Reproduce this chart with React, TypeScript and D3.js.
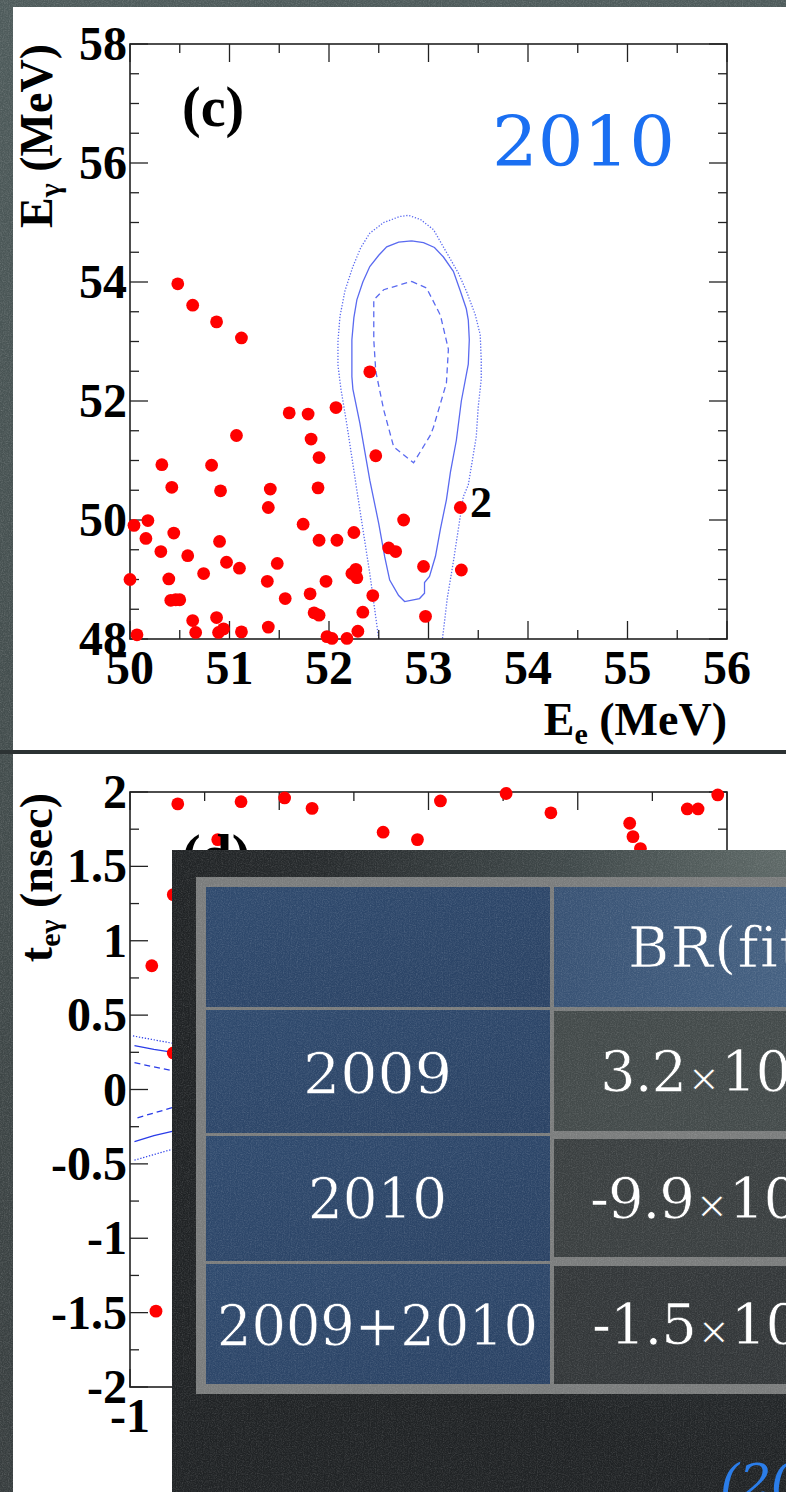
import React, { useEffect } from "react";
import * as d3 from "d3";

const W = 786;
const H = 1492;

// ---------- Panel (c): E_e vs E_gamma, 2010 events ----------
const eventsC: [number, number][] = [
  [50.48, 53.97], [50.63, 53.61], [50.87, 53.33], [51.12, 53.06], [52.41, 52.49],
  [51.6, 51.8], [51.79, 51.78], [52.07, 51.89], [51.07, 51.42], [51.82, 51.36],
  [51.9, 51.05], [52.47, 51.08], [50.32, 50.93], [50.82, 50.92], [50.42, 50.55],
  [50.91, 50.49], [51.41, 50.52], [51.89, 50.54], [51.39, 50.21], [53.32, 50.21],
  [50.04, 49.91], [50.18, 49.99], [51.74, 49.93], [52.75, 50.0], [50.16, 49.69],
  [50.44, 49.78], [50.9, 49.64], [51.9, 49.66], [52.08, 49.66], [52.25, 49.79],
  [50.31, 49.47], [50.58, 49.4], [50.97, 49.29], [51.1, 49.19], [51.48, 49.27],
  [52.6, 49.53], [52.67, 49.47], [52.95, 49.22], [53.33, 49.16], [50.0, 49.0],
  [50.39, 49.01], [50.74, 49.1], [51.38, 48.97], [51.97, 48.97], [52.23, 49.1],
  [52.27, 49.17], [52.28, 49.03], [50.41, 48.65], [50.46, 48.66], [50.5, 48.66],
  [51.56, 48.68], [51.81, 48.76], [52.44, 48.73], [51.85, 48.44], [51.9, 48.4],
  [52.34, 48.45], [52.97, 48.38], [50.63, 48.31], [50.87, 48.36], [50.66, 48.11],
  [50.89, 48.11], [50.94, 48.17], [51.12, 48.12], [51.39, 48.2], [50.07, 48.07],
  [51.98, 48.04], [52.03, 48.01], [52.18, 48.01], [52.29, 48.13],
];

const contourOuterC: [number, number][] = [
  [52.5, 48.0], [52.41, 49.1], [52.28, 50.5], [52.18, 51.6], [52.12, 52.2], [52.09, 52.6],
  [52.09, 53.0], [52.11, 53.42], [52.16, 53.85], [52.24, 54.26], [52.32, 54.58],
  [52.41, 54.82], [52.55, 55.0], [52.71, 55.1], [52.8, 55.12], [52.92, 55.05],
  [53.05, 54.88], [53.18, 54.5], [53.3, 54.15], [53.38, 53.85], [53.47, 53.45],
  [53.52, 53.11], [53.53, 52.7], [53.53, 52.37], [53.5, 51.9], [53.48, 51.4],
  [53.4, 50.59], [53.35, 50.39], [53.3, 49.85], [53.25, 49.3], [53.19, 48.7], [53.14, 48.0],
];

const contourMidC: [number, number][] = [
  [52.83, 54.69], [52.95, 54.66], [53.06, 54.58], [53.15, 54.42], [53.25, 54.18],
  [53.32, 53.85], [53.38, 53.55], [53.4, 53.36], [53.41, 53.03], [53.4, 52.62],
  [53.33, 52.0], [53.28, 51.34], [53.22, 50.8], [53.18, 50.34], [53.12, 49.85],
  [53.07, 49.39], [53.01, 49.05], [52.96, 48.95], [52.96, 48.77], [52.91, 48.68],
  [52.76, 48.63], [52.7, 48.73], [52.61, 48.99], [52.56, 49.38], [52.5, 49.94],
  [52.41, 50.67], [52.31, 51.63], [52.24, 52.2], [52.23, 52.41], [52.23, 53.03],
  [52.25, 53.4], [52.28, 53.7], [52.34, 54.0], [52.41, 54.26], [52.5, 54.45],
  [52.58, 54.59], [52.7, 54.67], [52.83, 54.69],
];

const contourInnerC: [number, number][] = [
  [52.83, 54.01], [52.98, 53.9], [53.12, 53.44], [53.2, 52.87], [53.18, 52.3],
  [53.05, 51.56], [53.02, 51.43], [52.85, 50.96], [52.65, 51.23], [52.55, 51.85],
  [52.47, 52.5], [52.45, 53.03], [52.45, 53.7], [52.55, 53.87], [52.71, 53.95], [52.83, 54.01],
];

const yTicksC = [48, 50, 52, 54, 56, 58];
const xTicksC = [50, 51, 52, 53, 54, 55, 56];

// ---------- Panel (d): cos(theta) vs t_egamma ----------
const eventsD: [number, number][] = [
  [-0.84, 1.92], [-0.628, 1.935], [-0.482, 1.96], [-0.39, 1.89], [-0.152, 1.73],
  [-0.037, 1.68], [0.04, 1.94], [0.26, 1.99], [0.41, 1.86], [0.674, 1.79],
  [0.685, 1.7], [0.71, 1.62], [0.867, 1.886], [0.903, 1.886], [0.969, 1.98],
  [-0.706, 1.68], [-0.927, 0.832], [-0.855, 1.31], [-0.855, 0.246], [-0.913, -1.49],
];

const dContourDottedTop: [number, number][] = [[-0.99, 0.36], [-0.855, 0.31], [-0.8, 0.29]];
const dContourSolidTop: [number, number][] = [[-0.985, 0.295], [-0.92, 0.27], [-0.855, 0.25], [-0.8, 0.23]];
const dContourDashedTop: [number, number][] = [[-0.985, 0.18], [-0.855, 0.125], [-0.8, 0.1]];
const dContourDashedBot: [number, number][] = [[-0.975, -0.19], [-0.855, -0.12], [-0.8, -0.1]];
const dContourSolidBot: [number, number][] = [[-0.985, -0.35], [-0.92, -0.31], [-0.855, -0.28], [-0.8, -0.26]];
const dContourDottedBot: [number, number][] = [[-0.985, -0.475], [-0.855, -0.4], [-0.8, -0.38]];

const yTicksD = [-2, -1.5, -1, -0.5, 0, 0.5, 1, 1.5, 2];
const xTicksD = [-1, -0.5, 0, 0.5, 1];

// ---------- Table ----------
const rowLabels = ["2009", "2010", "2009+2010"];
const brFitMantissa = ["3.2", "-9.9", "-1.5"];
const headerLabel = "BR(fit)";

const serifBold = "'Liberation Serif', 'Times New Roman', serif";
const fancy = "'DejaVu Serif', serif";

export default function App() {
  useEffect(() => {
    document.body.style.margin = "0";
  }, []);

  const xC = d3.scaleLinear().domain([50, 56]).range([130, 727]);
  const yC = d3.scaleLinear().domain([48, 58]).range([639, 44]);
  const xD = d3.scaleLinear().domain([-1, 1]).range([130, 727]);
  const yD = d3.scaleLinear().domain([-2, 2]).range([1387, 792]);

  const lineC = d3.line<[number, number]>().x((d) => xC(d[0])).y((d) => yC(d[1]));
  const lineD = d3.line<[number, number]>().x((d) => xD(d[0])).y((d) => yD(d[1]));

  const minorYC = d3.range(48, 58.001, 0.5);
  const minorXC = d3.range(50, 56.001, 0.5);
  const minorYD = d3.range(-2, 2.001, 0.25);
  const minorXD = d3.range(-1, 1.001, 0.25);

  const tableX = 172;
  const tableY = 850;

  const axisColor = "#222";
  const contourC = "#5a6af0";
  const contourD = "#2a3ce8";

  const cFrame = { l: 130, r: 727, t: 44, b: 639 };
  const dFrame = { l: 130, r: 727, t: 792, b: 1387 };

  const isMajor = (v: number, step: number) => Math.abs(v / step - Math.round(v / step)) < 1e-6;

  const leftCol = { x0: 206, x1: 550 };
  const rightCol = { x0: 554, x1: 800 };
  const leftRows = [
    { y0: 1010, y1: 1133 },
    { y0: 1136, y1: 1261 },
    { y0: 1264, y1: 1384 },
  ];
  const rightRows = [
    { y0: 1011, y1: 1131 },
    { y0: 1139, y1: 1257 },
    { y0: 1266, y1: 1384 },
  ];
  const leftTextBase = [1093, 1218, 1345];
  const leftTextWidth = [149, 139, 321];
  const rightTextX = [600, 590, 592];
  const rightTextBase = [1091, 1218, 1344];
  const rightFill = ["#434a4a", "#3a3f40", "#333739"];

  return (
    <svg
      width={W}
      height={H}
      viewBox={`0 0 ${W} ${H}`}
      style={{ position: "fixed", left: 0, top: 0, display: "block" }}
    >
      <defs>
        <linearGradient id="bgGrad" x1="0" y1="0" x2="0" y2="1">
          <stop offset="0" stopColor="#4e5b5b" />
          <stop offset="0.5" stopColor="#434d4d" />
          <stop offset="1" stopColor="#373d3e" />
        </linearGradient>
        <radialGradient id="tableGrad" cx="790" cy="850" r="620" gradientUnits="userSpaceOnUse">
          <stop offset="0" stopColor="#5f6a68" />
          <stop offset="0.35" stopColor="#40494a" />
          <stop offset="0.75" stopColor="#272b2d" />
          <stop offset="1" stopColor="#202325" />
        </radialGradient>
        <linearGradient id="blueCell" x1="0" y1="0" x2="1" y2="1">
          <stop offset="0" stopColor="#2f4a6e" />
          <stop offset="1" stopColor="#2a4264" />
        </linearGradient>
        <linearGradient id="blueHeader" x1="0" y1="0" x2="1" y2="0">
          <stop offset="0" stopColor="#385274" />
          <stop offset="1" stopColor="#456182" />
        </linearGradient>
        <filter id="noise" x="0" y="0" width="100%" height="100%">
          <feTurbulence type="fractalNoise" baseFrequency="0.85" numOctaves="2" seed="3" stitchTiles="stitch" />
          <feColorMatrix
            type="matrix"
            values="0 0 0 0 1  0 0 0 0 1  0 0 0 0 1  0.33 0.33 0.33 0 -0.42"
          />
        </filter>
        <clipPath id="tableClip">
          <rect x={tableX} y={tableY} width={W - tableX} height={H - tableY} />
        </clipPath>
      </defs>

      {/* slide background */}
      <rect x={0} y={0} width={W} height={H} fill="url(#bgGrad)" />
      <rect x={0} y={0} width={W} height={H} filter="url(#noise)" opacity={0.5} />

      {/* white panels */}
      <rect x={13} y={7} width={W - 13} height={743} fill="#ffffff" />
      <rect x={0} y={750} width={W} height={4} fill="#2c3233" />
      <rect x={13} y={754} width={W - 13} height={H - 754} fill="#ffffff" />

      {/* ================= Panel (c) ================= */}
      <g>
        <path d={lineC(contourOuterC) || ""} fill="none" stroke={contourC} strokeWidth={1.3} strokeDasharray="1.3,1.7" />
        <path d={lineC(contourMidC) || ""} fill="none" stroke={contourC} strokeWidth={1.3} />
        <path d={lineC(contourInnerC) || ""} fill="none" stroke={contourC} strokeWidth={1.3} strokeDasharray="6,4" />

        <rect
          x={cFrame.l}
          y={cFrame.t}
          width={cFrame.r - cFrame.l}
          height={cFrame.b - cFrame.t}
          fill="none"
          stroke={axisColor}
          strokeWidth={1.6}
        />
        {minorYC.map((v) => {
          const len = isMajor(v, 2) ? 18 : 9;
          return (
            <g key={`yc${v}`}>
              <line x1={cFrame.l} x2={cFrame.l + len} y1={yC(v)} y2={yC(v)} stroke={axisColor} strokeWidth={1.3} />
              <line x1={cFrame.r} x2={cFrame.r - len} y1={yC(v)} y2={yC(v)} stroke={axisColor} strokeWidth={1.3} />
            </g>
          );
        })}
        {minorXC.map((v) => {
          const len = isMajor(v, 1) ? 18 : 9;
          return (
            <g key={`xc${v}`}>
              <line x1={xC(v)} x2={xC(v)} y1={cFrame.b} y2={cFrame.b - len} stroke={axisColor} strokeWidth={1.3} />
              <line x1={xC(v)} x2={xC(v)} y1={cFrame.t} y2={cFrame.t + len} stroke={axisColor} strokeWidth={1.3} />
            </g>
          );
        })}

        {eventsC.map((d, i) => (
          <circle key={`pc${i}`} cx={xC(d[0])} cy={yC(d[1])} r={6.4} fill="#ff0000" />
        ))}

        {yTicksC.map((v) => (
          <text
            key={`ylc${v}`}
            x={127}
            y={yC(v) + 16}
            textAnchor="end"
            fontFamily={serifBold}
            fontWeight="bold"
            fontSize={48}
            fill="#000"
          >
            {v}
          </text>
        ))}
        {xTicksC.map((v) => (
          <text
            key={`xlc${v}`}
            x={xC(v)}
            y={684}
            textAnchor="middle"
            fontFamily={serifBold}
            fontWeight="bold"
            fontSize={48}
            fill="#000"
          >
            {v}
          </text>
        ))}

        <text
          x={727}
          y={735}
          textAnchor="end"
          fontFamily={serifBold}
          fontWeight="bold"
          fontSize={46}
          fill="#000"
        >
          E<tspan dy={9} fontSize={30}>e</tspan>
          <tspan dy={-9}> (MeV)</tspan>
        </text>
        <text
          transform="translate(52,44) rotate(-90)"
          textAnchor="end"
          fontFamily={serifBold}
          fontWeight="bold"
          fontSize={46}
          fill="#000"
        >
          E<tspan dy={8} fontSize={30}>γ</tspan>
          <tspan dy={-8}> (MeV)</tspan>
        </text>

        <text x={182} y={126} fontFamily={serifBold} fontWeight="bold" fontSize={56} fill="#000">
          (c)
        </text>
        <text x={470} y={517} fontFamily={serifBold} fontWeight="bold" fontSize={44} fill="#000">
          2
        </text>
        <text
          x={492}
          y={166}
          fontFamily={fancy}
          fontSize={70}
          fill="#1a6ff2"
          textLength={183}
          lengthAdjust="spacingAndGlyphs"
        >
          2010
        </text>
      </g>

      {/* ================= Panel (d) ================= */}
      <g>
        <path d={lineD(dContourDottedTop) || ""} fill="none" stroke={contourD} strokeWidth={1.2} strokeDasharray="1.3,1.7" />
        <path d={lineD(dContourSolidTop) || ""} fill="none" stroke={contourD} strokeWidth={1.3} />
        <path d={lineD(dContourDashedTop) || ""} fill="none" stroke={contourD} strokeWidth={1.3} strokeDasharray="6,4" />
        <path d={lineD(dContourDashedBot) || ""} fill="none" stroke={contourD} strokeWidth={1.3} strokeDasharray="6,4" />
        <path d={lineD(dContourSolidBot) || ""} fill="none" stroke={contourD} strokeWidth={1.3} />
        <path d={lineD(dContourDottedBot) || ""} fill="none" stroke={contourD} strokeWidth={1.2} strokeDasharray="1.3,1.7" />

        <rect
          x={dFrame.l}
          y={dFrame.t}
          width={dFrame.r - dFrame.l}
          height={dFrame.b - dFrame.t}
          fill="none"
          stroke={axisColor}
          strokeWidth={1.6}
        />
        {minorYD.map((v) => {
          const len = isMajor(v, 0.5) ? 18 : 9;
          return (
            <g key={`yd${v}`}>
              <line x1={dFrame.l} x2={dFrame.l + len} y1={yD(v)} y2={yD(v)} stroke={axisColor} strokeWidth={1.3} />
              <line x1={dFrame.r} x2={dFrame.r - len} y1={yD(v)} y2={yD(v)} stroke={axisColor} strokeWidth={1.3} />
            </g>
          );
        })}
        {minorXD.map((v) => {
          const len = isMajor(v, 0.5) ? 18 : 9;
          return (
            <g key={`xd${v}`}>
              <line x1={xD(v)} x2={xD(v)} y1={dFrame.t} y2={dFrame.t + len} stroke={axisColor} strokeWidth={1.3} />
              <line x1={xD(v)} x2={xD(v)} y1={dFrame.b} y2={dFrame.b - len} stroke={axisColor} strokeWidth={1.3} />
            </g>
          );
        })}

        {eventsD.map((d, i) => (
          <circle key={`pd${i}`} cx={xD(d[0])} cy={yD(d[1])} r={6.4} fill="#ff0000" />
        ))}

        {yTicksD.map((v) => (
          <text
            key={`yld${v}`}
            x={127}
            y={yD(v) + 16}
            textAnchor="end"
            fontFamily={serifBold}
            fontWeight="bold"
            fontSize={48}
            fill="#000"
          >
            {v}
          </text>
        ))}
        {xTicksD
          .filter((v) => xD(v) < tableX)
          .map((v) => (
            <text
              key={`xld${v}`}
              x={xD(v)}
              y={1432}
              textAnchor="middle"
              fontFamily={serifBold}
              fontWeight="bold"
              fontSize={48}
              fill="#000"
            >
              {v}
            </text>
          ))}

        <text
          transform="translate(52,793) rotate(-90)"
          textAnchor="end"
          fontFamily={serifBold}
          fontWeight="bold"
          fontSize={46}
          fill="#000"
        >
          t<tspan dy={8} fontSize={30}>eγ</tspan>
          <tspan dy={-8}> (nsec)</tspan>
        </text>
        <text x={182} y={874} fontFamily={serifBold} fontWeight="bold" fontSize={56} fill="#000">
          (d)
        </text>
      </g>

      {/* ================= Table overlay ================= */}
      <g>
        <rect x={tableX} y={tableY} width={W - tableX} height={H - tableY} fill="url(#tableGrad)" />
        <rect x={196} y={877} width={W - 196 + 20} height={1394 - 877} fill="#7a7c7c" />
        <rect x={leftCol.x0} y={887} width={leftCol.x1 - leftCol.x0} height={1007 - 887} fill="url(#blueCell)" />
        <rect x={rightCol.x0} y={887} width={rightCol.x1 - rightCol.x0} height={1007 - 887} fill="url(#blueHeader)" />
        {leftRows.map((r, i) => (
          <rect key={`lr${i}`} x={leftCol.x0} y={r.y0} width={leftCol.x1 - leftCol.x0} height={r.y1 - r.y0} fill="url(#blueCell)" />
        ))}
        {rightRows.map((r, i) => (
          <rect key={`rr${i}`} x={rightCol.x0} y={r.y0} width={rightCol.x1 - rightCol.x0} height={r.y1 - r.y0} fill={rightFill[i]} />
        ))}
        <g clipPath="url(#tableClip)">
          <rect x={tableX} y={tableY} width={W - tableX} height={H - tableY} filter="url(#noise)" opacity={0.45} />
        </g>

        <g clipPath="url(#tableClip)">
          <text
            x={628}
            y={967}
            fontFamily={fancy}
            fontSize={56}
            fill="#ffffff"
            stroke="#3e5a7b"
            strokeWidth={0.6}
            letterSpacing={1.5}
          >
            {headerLabel}
          </text>
          {rowLabels.map((t, i) => (
            <text
              key={`rl${i}`}
              x={377.5}
              y={leftTextBase[i]}
              textAnchor="middle"
              fontFamily={fancy}
              fontSize={56}
              fill="#ffffff"
              stroke="#2d4669"
              strokeWidth={0.6}
              textLength={leftTextWidth[i]}
              lengthAdjust="spacingAndGlyphs"
            >
              {t}
            </text>
          ))}
          {brFitMantissa.map((t, i) => (
            <text
              key={`bv${i}`}
              x={rightTextX[i]}
              y={rightTextBase[i]}
              fontFamily={fancy}
              fontSize={56}
              fill="#ffffff"
              stroke={rightFill[i]}
              strokeWidth={0.6}
              letterSpacing={-1}
            >
              {t}
              <tspan fontSize={38} dx={2}>×</tspan>
              <tspan dx={2}>10</tspan>
            </text>
          ))}
          <text x={720} y={1500} fontFamily={fancy} fontStyle="italic" fontSize={50} fill="#2b7de9">
            (20
          </text>
        </g>
      </g>
    </svg>
  );
}
